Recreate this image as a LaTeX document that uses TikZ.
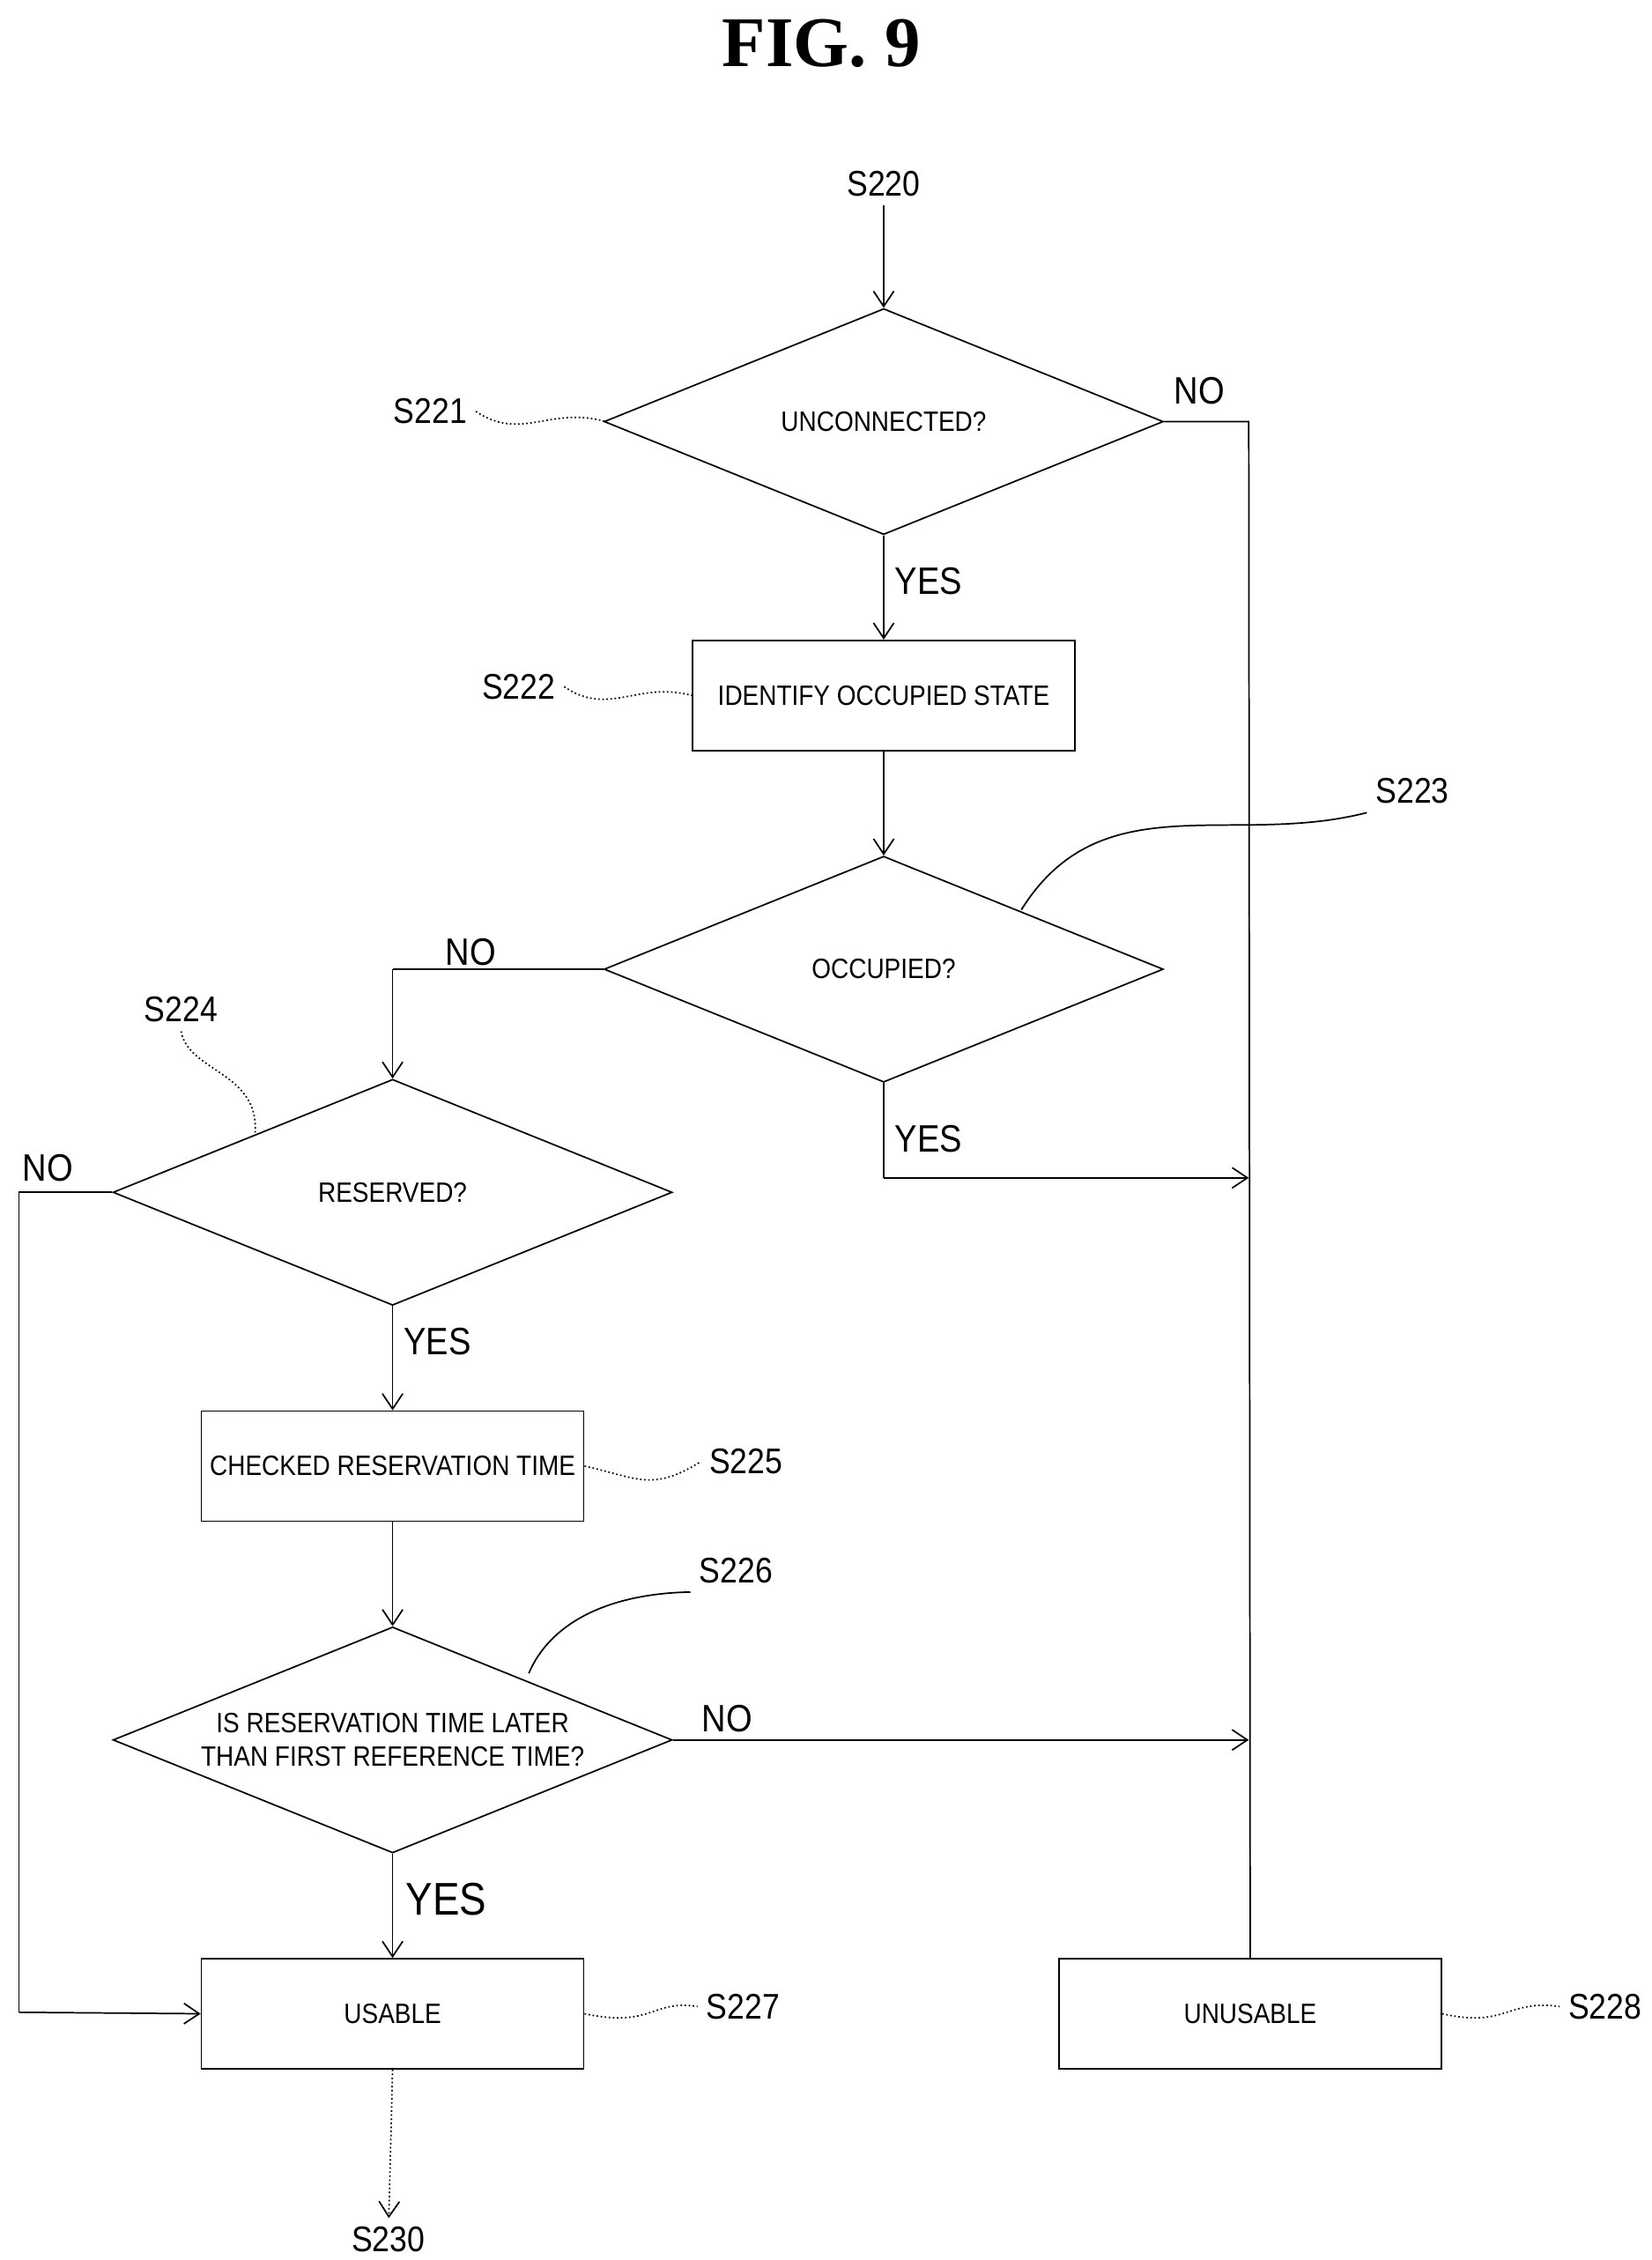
\documentclass[tikz,border=0pt]{standalone}
\usepackage{fontspec}
\setmainfont{Liberation Serif}
\newfontfamily\lab[FakeStretch=0.88]{Liberation Sans}
\usetikzlibrary{arrows.meta,shapes.geometric,decorations.pathmorphing}
\begin{document}
\begin{tikzpicture}[x=0.02cm,y=-0.02cm,
  every node/.style={font=\lab\fontsize{11}{13}\selectfont},
  ln/.style={line width=0.6pt},
  ar/.style={ln,-{Straight Barb[length=6pt,width=8pt]}},
  box/.style={draw,line width=0.6pt,minimum width=264*0.02cm,minimum height=76*0.02cm,inner sep=0},
  dia/.style={draw,line width=0.6pt,diamond,aspect=2.5,minimum width=386*0.02cm,minimum height=156*0.02cm,inner sep=0,align=center},
  tag/.style={font=\lab\fontsize{14}{16}\selectfont},
  yn/.style={font=\lab\fontsize{15}{17}\selectfont},
  wav/.style={ln,densely dotted}]
\useasboundingbox (0,0) rectangle (1140,1560);
\node[font=\bfseries\fontsize{28}{32}\selectfont] (title) at (567,30) {FIG. 9};
\node[tag] (s220) at (610,127) {S220};
\node[dia] (d1) at (610,291) {UNCONNECTED?};
\node[box] (b1) at (610,480) {IDENTIFY OCCUPIED STATE};
\node[dia] (d2) at (610,669) {OCCUPIED?};
\node[dia] (d3) at (271,823) {RESERVED?};
\node[box] (b2) at (271,1012) {CHECKED RESERVATION TIME};
\node[dia] (d4) at (271,1201) {IS RESERVATION TIME LATER\\THAN FIRST REFERENCE TIME?};
\node[box] (b3) at (271,1390) {USABLE};
\node[box] (b4) at (863,1390) {UNUSABLE};
\node[tag] (s230) at (268,1546) {S230};
\node[tag] (s221) at (297,284) {S221};
\node[tag] (s222) at (358,474) {S222};
\node[tag] (s223) at (975,546) {S223};
\node[tag] (s224) at (125,697) {S224};
\node[tag] (s225) at (515,1009) {S225};
\node[tag] (s226) at (508,1084) {S226};
\node[tag] (s227) at (513,1385) {S227};
\node[tag] (s228) at (1108,1385) {S228};
\node[yn] (no1) at (828,270) {NO};
\node[yn] (yes1) at (641,401) {YES};
\node[yn] (no2) at (325,657) {NO};
\node[yn] (yes2) at (641,786) {YES};
\node[yn] (no3) at (33,806) {NO};
\node[yn] (yes3) at (302,926) {YES};
\node[yn] (no4) at (502,1186) {NO};
\node[yn,font=\lab\fontsize{18}{20}\selectfont] (yes4) at (308,1311) {YES};
\coordinate (c1) at (862,291);
\coordinate (c2) at (271,669);
\coordinate (c3) at (610,813);
\coordinate (c4) at (862,813);
\coordinate (c5) at (13,823);
\coordinate (c6) at (13,1389);
\coordinate (c7) at (862,1201);
\draw[ar] (s220) -- (d1.north);
\draw[ln] (d1.east) -- (c1) -- (b4.north);
\draw[ar] (d1.south) -- (b1.north);
\draw[ar] (b1.south) -- (d2.north);
\draw[ln] (d2.west) -- (c2);
\draw[ar] (c2) -- (d3.north);
\draw[ln] (d2.south) -- (c3);
\draw[ar] (c3) -- (c4);
\draw[ln] (d3.west) -- (c5) -- (c6);
\draw[ar] (c6) -- (b3.west);
\draw[ar] (d3.south) -- (b2.north);
\draw[ar] (b2.south) -- (d4.north);
\draw[ar] (d4.east) -- (c7);
\draw[ar] (d4.south) -- (b3.north);
\draw[ar,densely dotted] (b3.south) -- (s230);
\draw[wav] (s221.east) .. controls (360,305) and (380,280) .. (418,291);
\draw[wav] (s222.east) .. controls (420,495) and (440,470) .. (b1.west);
\draw[ln] (s223.south west) .. controls (850,585) and (760,540) .. (705,628);
\draw[wav] (s224.south) .. controls (130,740) and (180,740) .. (176,783);
\draw[wav] (b2.east) .. controls (440,1020) and (450,1030) .. (s225.west);
\draw[ln] (s226.south west) .. controls (420,1100) and (380,1120) .. (365,1155);
\draw[wav] (b3.east) .. controls (450,1400) and (450,1380) .. (s227.west);
\draw[wav] (b4.east) .. controls (1040,1400) and (1040,1380) .. (s228.west);
\end{tikzpicture}
\end{document}
